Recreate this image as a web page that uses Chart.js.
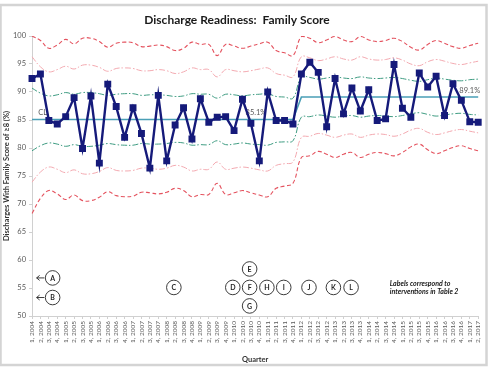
<!DOCTYPE html>
<html lang="en">
<head>
<meta charset="UTF-8" />
<title>Discharge Readiness: Family Score</title>
<style>
  html, body { margin: 0; padding: 0; background: #fff; }
  #wrap { width: 488px; height: 374px; }
</style>
</head>
<body>
<div id="wrap"><canvas id="chart" width="488" height="374"></canvas></div>

<script src="https://cdn.jsdelivr.net/npm/chart.js@4"></script>
<script>
  // Quarter categories
  const quarters = [
    '1, 2004', '2, 2004', '3, 2004', '4, 2004', '1, 2005', '2, 2005', '3, 2005', '4, 2005',
    '1, 2006', '2, 2006', '3, 2006', '4, 2006', '1, 2007', '2, 2007', '3, 2007', '4, 2007',
    '1, 2008', '2, 2008', '3, 2008', '4, 2008', '1, 2009', '2, 2009', '3, 2009', '4, 2009',
    '1, 2010', '2, 2010', '3, 2010', '4, 2010', '1, 2011', '2, 2011', '3, 2011', '4, 2011',
    '1, 2012', '2, 2012', '3, 2012', '4, 2012', '1, 2013', '2, 2013', '3, 2013', '4, 2013',
    '1, 2014', '2, 2014', '3, 2014', '4, 2014', '1, 2015', '2, 2015', '3, 2015', '4, 2015',
    '1, 2016', '2, 2016', '3, 2016', '4, 2016', '1, 2017', '2, 2017'
  ];

  // % of discharges with family score >= 8
  const familyScore = [
    92.4, 93.2, 84.9, 84.3, 85.6, 89.0, 79.9, 89.3, 77.3, 91.4, 87.4, 81.9, 87.2, 82.6, 76.4, 89.4, 77.7, 84.1,
    87.2, 81.6, 88.8, 84.6, 85.5, 85.6, 83.1, 88.7, 84.4, 77.7, 90.0, 84.9, 84.9, 84.3, 93.2, 95.3, 93.5, 83.8,
    92.4, 86.1, 90.7, 86.6, 90.4, 84.9, 85.2, 94.9, 87.1, 85.5, 93.4, 90.9, 92.8, 85.8, 91.5, 88.5, 84.7, 84.6
  ];

  // Center line (shifts after 4, 2011)
  const centerLine = [
    85.1, 85.1, 85.1, 85.1, 85.1, 85.1, 85.1, 85.1, 85.1, 85.1, 85.1, 85.1, 85.1, 85.1, 85.1, 85.1,
    85.1, 85.1, 85.1, 85.1, 85.1, 85.1, 85.1, 85.1, 85.1, 85.1, 85.1, 85.1, 85.1, 85.1, 85.1, 85.1,
    89.1, 89.1, 89.1, 89.1, 89.1, 89.1, 89.1, 89.1, 89.1, 89.1, 89.1,
    89.1, 89.1, 89.1, 89.1, 89.1, 89.1, 89.1, 89.1, 89.1, 89.1, 89.1
  ];

  // Control limits (3 sigma, red dashed)
  const ucl3 = [
    100, 99.2, 97.8, 98.4, 99.4, 98.6, 99.6, 99.6, 99.0, 98.0, 98.7, 98.9, 98.8, 98.1, 98.2, 98.4,
    98.1, 97.4, 97.8, 98.9, 98.5, 98.5, 96.5, 98.5, 98.2, 97.8, 98.2, 98.6, 98.9, 97.4, 97.0, 96.5,
    99.9, 99.6, 98.8, 99.3, 99.9, 99.3, 99.0, 99.9, 99.3, 99.0, 99.2,
    99.6, 99.0, 98.0, 97.5, 98.5, 99.2, 98.7, 98.1, 97.8, 98.3, 98.7
  ];
  const lcl3 = [
    68.3, 71.0, 72.4, 71.8, 70.8, 71.6, 70.6, 70.6, 71.2, 72.2, 71.5, 71.3, 71.4, 72.1, 72.0, 71.8,
    72.1, 72.8, 72.4, 71.3, 71.7, 71.7, 73.7, 71.7, 72.0, 72.4, 72.0, 71.6, 71.3, 72.8, 73.2, 73.7,
    78.3, 78.6, 79.4, 78.9, 78.3, 78.9, 79.2, 78.3, 78.9, 79.2, 79.0,
    78.6, 79.2, 80.2, 80.7, 79.7, 79.0, 79.5, 80.1, 80.4, 79.9, 79.5
  ];

  // 2 sigma (pink dash-dot)
  const ucl2 = [
    96.3, 94.5, 93.6, 94.0, 94.6, 94.1, 94.8, 94.8, 94.4, 93.7, 94.2, 94.3, 94.2, 93.8, 93.8, 94.0,
    93.8, 93.3, 93.6, 94.3, 94.0, 94.0, 92.7, 94.0, 93.8, 93.6, 93.8, 94.1, 94.3, 93.3, 93.0, 92.7,
    96.3, 96.1, 95.6, 95.9, 96.3, 95.9, 95.7, 96.3, 95.9, 95.7, 95.8,
    96.1, 95.7, 95.0, 94.7, 95.4, 95.8, 95.5, 95.1, 94.9, 95.2, 95.5
  ];
  const lcl2 = [
    73.9, 75.7, 76.6, 76.2, 75.6, 76.1, 75.4, 75.4, 75.8, 76.5, 76.0, 75.9, 76.0, 76.4, 76.4, 76.2,
    76.4, 76.9, 76.6, 75.9, 76.2, 76.2, 77.5, 76.2, 76.4, 76.6, 76.4, 76.1, 75.9, 76.9, 77.2, 77.5,
    81.9, 82.1, 82.6, 82.3, 81.9, 82.3, 82.5, 81.9, 82.3, 82.5, 82.4,
    82.1, 82.5, 83.2, 83.5, 82.8, 82.4, 82.7, 83.1, 83.3, 83.0, 82.7
  ];

  // 1 sigma (green dash-dot)
  const ucl1 = [
    90.7, 89.8, 89.3, 89.5, 89.9, 89.6, 89.9, 89.9, 89.7, 89.4, 89.6, 89.7, 89.7, 89.4, 89.5, 89.5,
    89.4, 89.2, 89.3, 89.7, 89.6, 89.6, 88.9, 89.6, 89.5, 89.3, 89.5, 89.6, 89.7, 89.2, 89.1, 88.9,
    92.7, 92.6, 92.3, 92.5, 92.7, 92.5, 92.4, 92.7, 92.5, 92.4, 92.5,
    92.6, 92.4, 92.1, 91.9, 92.2, 92.5, 92.3, 92.1, 92.0, 92.2, 92.3
  ];
  const lcl1 = [
    79.5, 80.4, 80.9, 80.7, 80.3, 80.6, 80.3, 80.3, 80.5, 80.8, 80.6, 80.5, 80.5, 80.8, 80.7, 80.7,
    80.8, 81.0, 80.9, 80.5, 80.6, 80.6, 81.3, 80.6, 80.7, 80.9, 80.7, 80.6, 80.5, 81.0, 81.1, 81.3,
    85.5, 85.6, 85.9, 85.7, 85.5, 85.7, 85.8, 85.5, 85.7, 85.8, 85.7,
    85.6, 85.8, 86.1, 86.3, 86.0, 85.7, 85.9, 86.1, 86.2, 86.0, 85.9
  ];

  // Intervention markers (x = quarter index, y = axis value)
  const interventionLabels = ['A', 'B', 'C', 'D', 'E', 'F', 'G', 'H', 'I', 'J', 'K', 'L'];
  const interventionX = [2.45, 2.45, 16.85, 23.85, 25.85, 25.85, 25.85, 27.9, 29.9, 32.9, 35.8, 37.9];
  const interventionY = [56.8, 53.3, 55.1, 55.1, 58.4, 55.1, 51.8, 55.1, 55.1, 55.1, 55.1, 55.1];
  const arrowed = ['A', 'B'];

  const FONT = 'Lato, "Open Sans", sans-serif';
  const GREY = '#595959';

  function limitSet(label, data, color, dash, width) {
    return {
      label, data,
      borderColor: color,
      borderWidth: width,
      borderDash: dash,
      pointRadius: 0,
      tension: 0.4,
      fill: false
    };
  }

  // Frame, title, line labels and intervention circles
  const decorations = {
    id: 'decorations',
    beforeDraw(chart) {
      const c = chart.ctx;
      c.save();
      c.fillStyle = '#fff';
      c.fillRect(0, 0, chart.width, chart.height);
      c.restore();
    },
    beforeDatasetsDraw(chart) {
      const c = chart.ctx;
      const xs = chart.scales.x, ys = chart.scales.y;
      c.save();
      c.fillStyle = GREY;
      c.font = '7.5px ' + FONT;
      c.textBaseline = 'middle';
      c.textAlign = 'left';
      c.fillText('CL', xs.getPixelForValue(0.75), ys.getPixelForValue(85.1) - 7);
      c.textAlign = 'center';
      c.fillText('85.1%', xs.getPixelForValue(26.6), ys.getPixelForValue(85.1) - 7);
      c.fillText('89.1%', xs.getPixelForValue(52), ys.getPixelForValue(89.1) - 6.5);
      c.restore();
    },
    afterDraw(chart) {
      const c = chart.ctx;
      const xs = chart.scales.x, ys = chart.scales.y;
      c.save();

      // chart frame
      c.strokeStyle = '#d4d4d4';
      c.lineWidth = 2.5;
      c.strokeRect(0.5, 5, 486, 360);

      // title
      c.fillStyle = '#1a1a1a';
      c.font = 'bold 12px ' + FONT;
      c.textAlign = 'center';
      c.textBaseline = 'middle';
      c.fillText('Discharge Readiness:  Family Score', 237, 20);

      // intervention circles
      const r = 7.3;
      interventionLabels.forEach((lab, i) => {
        const cx = xs.getPixelForValue(interventionX[i]);
        const cy = ys.getPixelForValue(interventionY[i]);
        c.beginPath();
        c.arc(cx, cy, r, 0, Math.PI * 2);
        c.fillStyle = '#fff';
        c.fill();
        c.strokeStyle = '#262626';
        c.lineWidth = 0.9;
        c.stroke();
        c.fillStyle = '#262626';
        c.font = 'bold 7px ' + FONT;
        c.fillText(lab, cx, cy + 0.5);
        if (arrowed.includes(lab)) {
          const x0 = cx - r - 1, x1 = xs.getPixelForValue(0.55);
          c.beginPath();
          c.moveTo(x0, cy);
          c.lineTo(x1, cy);
          c.moveTo(x1 + 3, cy - 2.5);
          c.lineTo(x1, cy);
          c.lineTo(x1 + 3, cy + 2.5);
          c.stroke();
        }
      });

      // note
      c.fillStyle = '#1a1a1a';
      c.font = 'italic bold 7px ' + FONT;
      c.textAlign = 'left';
      c.fillText('Labels correspond to', xs.getPixelForValue(42.5), ys.getPixelForValue(55.8));
      c.fillText('interventions in Table 2', xs.getPixelForValue(42.5), ys.getPixelForValue(54.3));
      c.restore();
    }
  };

  new Chart(document.getElementById('chart'), {
    type: 'line',
    data: {
      labels: quarters,
      datasets: [
        {
          label: 'Family score',
          data: familyScore,
          borderColor: '#151a7a',
          backgroundColor: '#151a7a',
          borderWidth: 2.4,
          pointStyle: 'rect',
          pointRadius: 3.2,
          tension: 0,
          fill: false
        },
        {
          label: 'CL',
          data: centerLine,
          borderColor: '#4a9fb6',
          borderWidth: 1.6,
          pointRadius: 0,
          tension: 0,
          fill: false
        },
        limitSet('UCL 1', ucl1, '#3f9c82', [6, 2, 1.5, 2], 1),
        limitSet('LCL 1', lcl1, '#3f9c82', [6, 2, 1.5, 2], 1),
        limitSet('UCL 2', ucl2, '#f3a9b0', [6, 2, 1.5, 2], 1),
        limitSet('LCL 2', lcl2, '#f3a9b0', [6, 2, 1.5, 2], 1),
        limitSet('UCL 3', ucl3, '#e4525e', [4, 2.5], 1.1),
        limitSet('LCL 3', lcl3, '#e4525e', [4, 2.5], 1.1)
      ]
    },
    options: {
      responsive: false,
      animation: false,
      layout: { padding: { top: 36, right: 8, bottom: 8, left: 0 } },
      plugins: {
        legend: { display: false },
        title: { display: false },
        tooltip: { enabled: false }
      },
      scales: {
        x: {
          offset: false,
          grid: { drawOnChartArea: false, tickLength: 3, color: '#d0d0d0', offset: false },
          border: { color: '#d0d0d0' },
          ticks: {
            autoSkip: false, minRotation: 90, maxRotation: 90, padding: 2,
            color: GREY, font: { family: FONT, size: 6.5 }
          },
          title: {
            display: true, text: 'Quarter', color: '#333',
            font: { family: FONT, size: 7.5, weight: 'bold' }, padding: { top: 0, bottom: 2 }
          },
          afterFit: s => { s.height = 50; }
        },
        y: {
          min: 50,
          max: 100,
          grid: { drawOnChartArea: false, tickLength: 3, color: '#d0d0d0' },
          border: { color: '#d0d0d0' },
          ticks: { stepSize: 5, padding: 3, color: GREY, font: { family: FONT, size: 7.5 } },
          title: {
            display: true, text: 'Discharges With Family Score of \u22658 (%)', color: '#333',
            font: { family: FONT, size: 7.5, weight: 'bold' }, padding: { top: 2, bottom: 0 }
          },
          afterFit: s => { s.width = 32; }
        }
      }
    },
    plugins: [decorations]
  });
</script>
</body>
</html>
